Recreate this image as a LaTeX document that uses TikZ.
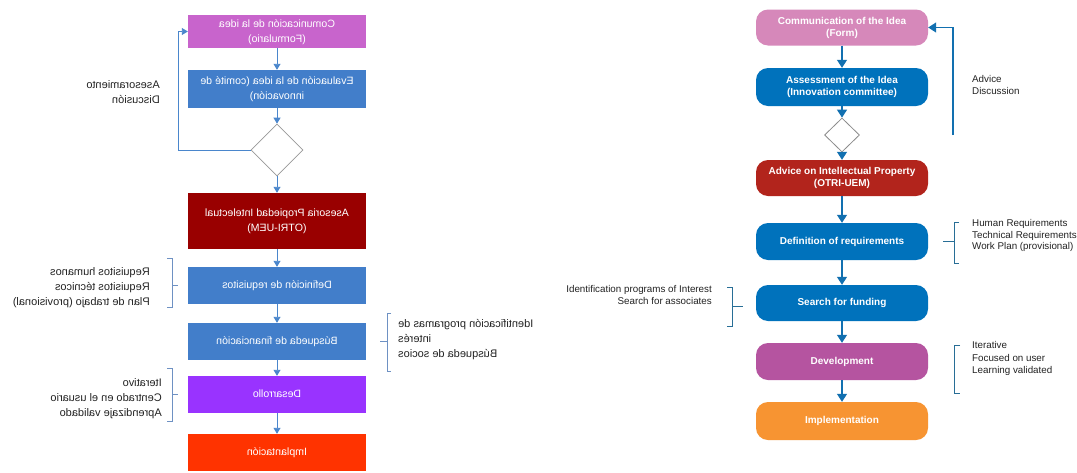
\documentclass[tikz,border=0pt]{standalone}
\usepackage{graphicx}
\usepackage{fontspec}
\setmainfont{Liberation Sans}
\usetikzlibrary{shapes.geometric,arrows.meta}
\definecolor{lmag}{RGB}{200,100,204}
\definecolor{lblue}{RGB}{66,126,202}
\definecolor{lred}{RGB}{153,0,0}
\definecolor{lpur}{RGB}{153,51,255}
\definecolor{lorg}{RGB}{255,51,0}
\definecolor{larr}{RGB}{74,134,204}
\definecolor{lbrk}{RGB}{110,145,195}
\definecolor{rpink}{RGB}{214,136,186}
\definecolor{rblue}{RGB}{0,114,188}
\definecolor{rred}{RGB}{178,36,28}
\definecolor{rpur}{RGB}{181,84,160}
\definecolor{rorg}{RGB}{247,148,50}
\definecolor{rarr}{RGB}{18,112,176}
\definecolor{rbrk}{RGB}{40,110,150}
\definecolor{txt}{RGB}{35,35,35}
\newcommand{\mir}[2]{\reflectbox{\begin{tabular}{@{}#1@{}}#2\end{tabular}}}
\tikzset{
  lbox/.style={rectangle, minimum width=178pt, inner sep=0pt, text=white,
    font=\fontsize{10.6}{15}\selectfont},
  rbox/.style={rectangle, rounded corners=12pt, minimum width=172pt, minimum height=36pt,
    inner sep=0pt, text=white, align=center, font=\bfseries\fontsize{10}{12}\selectfont},
  ldia/.style={diamond, draw=black!40, fill=white, line width=0.7pt, minimum width=52pt,
    minimum height=52pt, inner sep=0pt},
  rdia/.style={diamond, draw=black!45, fill=white, line width=0.8pt, minimum width=35pt,
    minimum height=34pt, inner sep=0pt},
  larrow/.style={draw=larr, line width=0.9pt, -{Triangle[length=6pt,width=7pt]}},
  rarrow/.style={draw=rarr, line width=1.3pt, -{Triangle[length=8pt,width=10pt]}},
  lbracket/.style={draw=lbrk, line width=0.8pt},
  rbracket/.style={draw=rbrk, line width=0.9pt},
  llabel/.style={text=txt, inner sep=0pt, font=\fontsize{11}{15}\selectfont},
  rlabel/.style={text=txt, inner sep=0pt, align=left, font=\fontsize{9.8}{11.5}\selectfont},
}
\begin{document}
\begin{tikzpicture}[x=1pt,y=-1pt]
\useasboundingbox[fill=white] (0,0) rectangle (1077,472);
% ---------------- left (mirrored) chart ----------------
\node[lbox, fill=lmag, minimum height=33pt] (l1) at (277,31.5) {\mir{c}{Comunicación de la idea\\(Formulario)}};
\node[lbox, fill=lblue, minimum height=38pt] (l2) at (277,89) {\mir{c}{Evaluación de la idea (comité de\\innovación)}};
\node[ldia] (ld) at (277,150) {};
\node[lbox, fill=lred, minimum height=56pt] (l3) at (277,221) {\mir{c}{Asesoria Propiedad Intelectual\\(OTRI-UEM)}};
\node[lbox, fill=lblue, minimum height=37pt] (l4) at (277,285.5) {\mir{c}{Definición de requisitos}};
\node[lbox, fill=lblue, minimum height=37pt] (l5) at (277,341.5) {\mir{c}{Búsqueda de financiación}};
\node[lbox, fill=lpur, minimum height=37pt] (l6) at (277,394.5) {\mir{c}{Desarrollo}};
\node[lbox, fill=lorg, minimum height=37pt] (l7) at (277,452.5) {\mir{c}{Implantación}};
\draw[larrow] (l1) -- (l2);
\draw[larrow] (l2) -- (ld);
\draw[larrow] (ld) -- (l3);
\draw[larrow] (l3) -- (l4);
\draw[larrow] (l4) -- (l5);
\draw[larrow] (l5) -- (l6);
\draw[larrow] (l6) -- (l7);
\coordinate (lc) at (178,150);
\draw[larrow] (ld.west) -- (lc) |- (l1.west);
\node[llabel, anchor=east] (la1) at (160,92.5) {\mir{l}{Asesoramiento\\Discusión}};
\node[llabel, anchor=east] (la2) at (150,287) {\mir{l}{Requisitos humanos\\Requisitos técnicos\\Plan de trabajo (provisional)}};
\node[llabel, anchor=west] (la3) at (398,339) {\mir{r}{Identificación programas de\\interés\\Búsqueda de socios}};
\node[llabel, anchor=east] (la4) at (162,398) {\mir{l}{Iterativo\\Centrado en el usuario\\Aprendizaje validado}};
\draw[lbracket] (167,258) -- (172,258) -- (172,307) -- (167,307);
\draw[lbracket] (172,285.5) -- (178,285.5);
\draw[lbracket] (391,313) -- (387,313) -- (387,371) -- (391,371);
\draw[lbracket] (387,341.5) -- (380,341.5);
\draw[lbracket] (167,368) -- (172,368) -- (172,421) -- (167,421);
\draw[lbracket] (172,394.5) -- (178,394.5);
% ---------------- right chart ----------------
\node[rbox, fill=rpink] (r1) at (842,27.5) {Communication of the Idea\\(Form)};
\node[rbox, fill=rblue, minimum height=38pt] (r2) at (842,87) {Assessment of the Idea\\(Innovation committee)};
\node[rdia] (rd) at (842,135) {};
\node[rbox, fill=rred] (r3) at (842,178) {Advice on Intellectual Property\\(OTRI-UEM)};
\node[rbox, fill=rblue, minimum height=37pt] (r4) at (842,241.5) {Definition of requirements};
\node[rbox, fill=rblue] (r5) at (842,303) {Search for funding};
\node[rbox, fill=rpur, minimum height=37pt] (r6) at (842,361.5) {Development};
\node[rbox, fill=rorg, minimum height=38pt] (r7) at (842,421) {Implementation};
\draw[rarrow] (r1) -- (r2);
\draw[rarrow] (r2) -- (rd);
\draw[rarrow] (rd) -- (r3);
\draw[rarrow] (r3) -- (r4);
\draw[rarrow] (r4) -- (r5);
\draw[rarrow] (r5) -- (r6);
\draw[rarrow] (r6) -- (r7);
\coordinate (rc) at (953,135);
\draw[rarrow] (rc) |- (r1.east);
\node[rlabel, anchor=west] (ra1) at (972,85) {Advice\\Discussion};
\node[rlabel, anchor=west] (ra2) at (972,235.5) {Human Requirements\\Technical Requirements\\Work Plan (provisional)};
\node[rlabel, anchor=east, align=right] (ra3) at (712,295) {Identification programs of Interest\\Search for associates};
\node[rlabel, anchor=west, font=\fontsize{9.8}{12.5}\selectfont] (ra4) at (972,358.5) {Iterative\\Focused on user\\Learning validated};
\draw[rbracket] (959,222) -- (954,222) -- (954,263) -- (959,263);
\draw[rbracket] (943,241.5) -- (954,241.5);
\draw[rbracket] (727,287) -- (732,287) -- (732,326) -- (727,326);
\draw[rbracket] (732,306) -- (743,306);
\draw[rbracket] (960,345) -- (954,345) -- (954,393) -- (960,393);
\end{tikzpicture}
\end{document}
